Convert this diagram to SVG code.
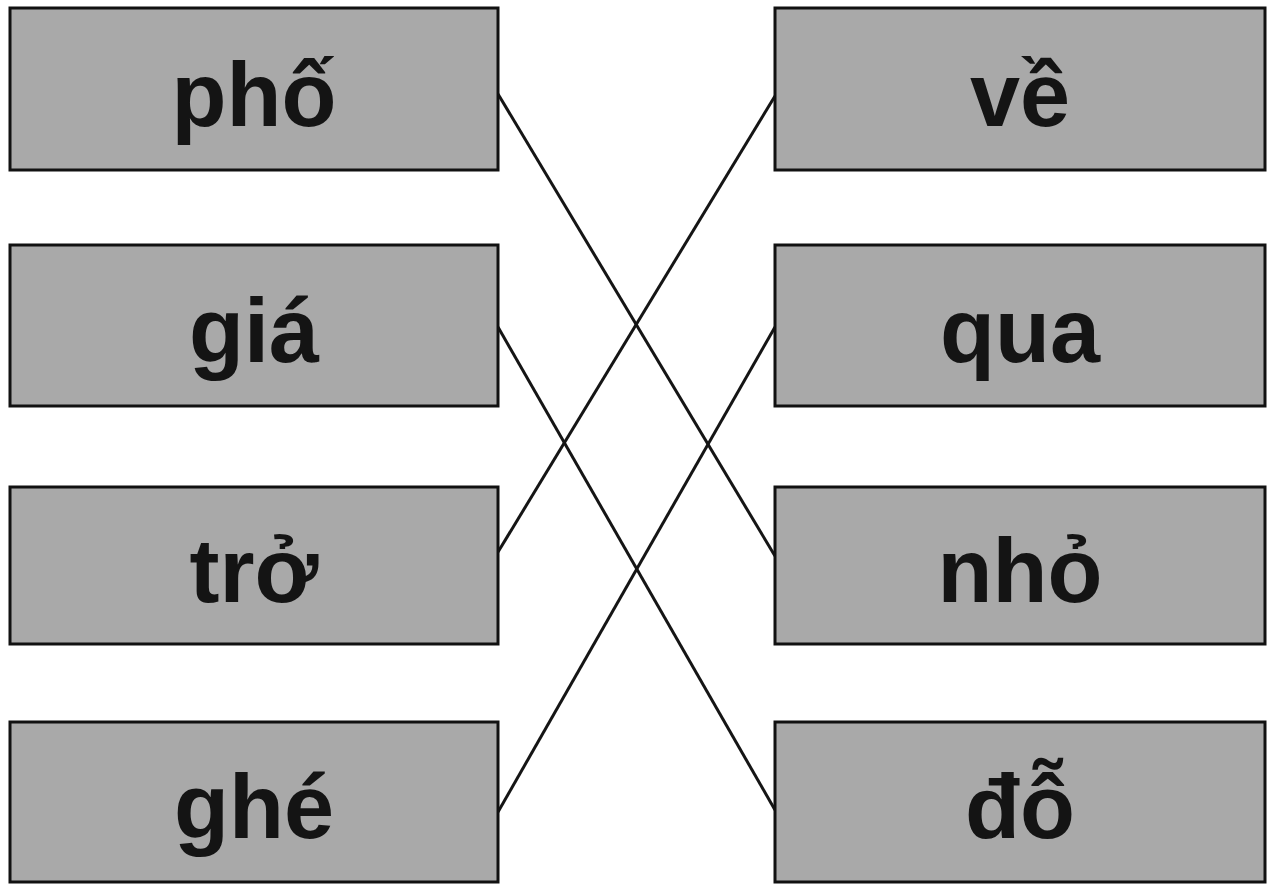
<svg xmlns="http://www.w3.org/2000/svg" width="1273" height="888" viewBox="0 0 1273 888">
<style>
.box{fill:#a9a9a9;stroke:#111;stroke-width:3}
.lbl{font-family:"Liberation Sans",Arial,sans-serif;font-weight:bold;font-size:90px;fill:#141414;text-anchor:middle}
.con{stroke:#151515;stroke-width:3;fill:none}
</style>
<rect width="1273" height="888" fill="#fff"/>
<g id="connectors">
<line class="con" x1="498" y1="94" x2="775" y2="556"/>
<line class="con" x1="498" y1="327" x2="775" y2="810"/>
<line class="con" x1="498" y1="552" x2="775" y2="96"/>
<line class="con" x1="498" y1="812" x2="775" y2="327"/>
</g>
<g id="n-pho"><rect class="box" x="10" y="8" width="488" height="162"/><text class="lbl" x="254" y="126">phố</text></g>
<g id="n-gia"><rect class="box" x="10" y="245" width="488" height="161"/><text class="lbl" x="254" y="362">giá</text></g>
<g id="n-tro"><rect class="box" x="10" y="487" width="488" height="157"/><text class="lbl" x="254" y="602">trở</text></g>
<g id="n-ghe"><rect class="box" x="10" y="722" width="488" height="160"/><text class="lbl" x="254" y="838">ghé</text></g>
<g id="n-ve"><rect class="box" x="775" y="8" width="490" height="162"/><text class="lbl" x="1020" y="126">về</text></g>
<g id="n-qua"><rect class="box" x="775" y="245" width="490" height="161"/><text class="lbl" x="1020" y="362">qua</text></g>
<g id="n-nho"><rect class="box" x="775" y="487" width="490" height="157"/><text class="lbl" x="1020" y="602">nhỏ</text></g>
<g id="n-do"><rect class="box" x="775" y="722" width="490" height="160"/><text class="lbl" x="1020" y="838">đỗ</text></g>
</svg>
